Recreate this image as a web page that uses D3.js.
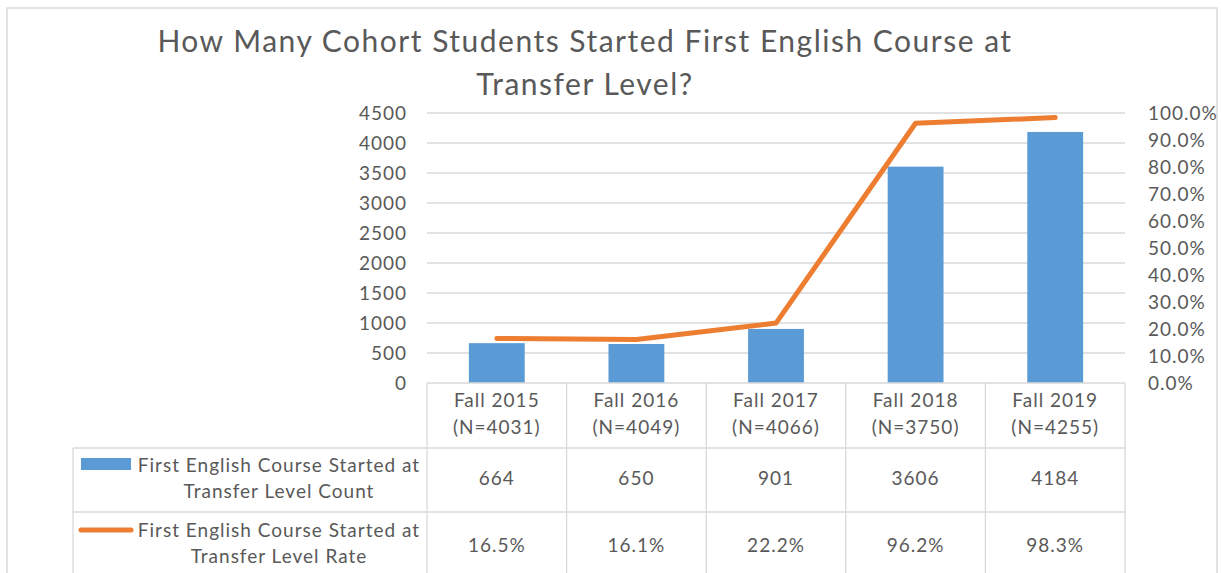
<!DOCTYPE html>
<html>
<head>
<meta charset="utf-8">
<script src="https://cdn.jsdelivr.net/npm/d3@7"></script>
<style>
  body { margin: 0; background: #fff; }
  text { font-family: Lato, "Liberation Sans", sans-serif; fill: #595959; letter-spacing: 1px; }
</style>
</head>
<body>
<div id="chart"></div>
<script>
// datos del grafico
const categorias = ["Fall 2015", "Fall 2016", "Fall 2017", "Fall 2018", "Fall 2019"];
const cohorteN = ["(N=4031)", "(N=4049)", "(N=4066)", "(N=3750)", "(N=4255)"];
const cantidad = [664, 650, 901, 3606, 4184];
const tasa = [16.5, 16.1, 22.2, 96.2, 98.3];
const ticksCantidad = [0, 500, 1000, 1500, 2000, 2500, 3000, 3500, 4000, 4500];
const ticksTasa = [0, 10, 20, 30, 40, 50, 60, 70, 80, 90, 100];
const tituloLineas = ["How Many Cohort Students Started First English Course at", "Transfer Level?"];
const serieCantidad = ["First English Course Started at", "Transfer Level Count"];
const serieTasa = ["First English Course Started at", "Transfer Level Rate"];

const W = 1221, H = 573;
const PLOT = { left: 427, right: 1125, top: 113, bottom: 383 };
const TABLA = { left: 73, fila1: 448, fila2: 512, fin: 600 };
const AZUL = "#5B9BD5", NARANJA = "#ED7D31", GRIS = "#D9D9D9";

const svg = d3.select("#chart").append("svg").attr("width", W).attr("height", H);

// borde del area del grafico
svg.append("rect").attr("x", 7).attr("y", 8).attr("width", 1210).attr("height", 620)
  .attr("fill", "none").attr("stroke", GRIS).attr("stroke-width", 1.5);

// titulo
svg.append("g").selectAll("text").data(tituloLineas).join("text")
  .attr("x", 585).attr("y", (d, i) => 52 + i * 43)
  .attr("text-anchor", "middle").attr("font-size", 30)
  .style("letter-spacing", "1.5px")
  .text(d => d);

// escalas
const x = d3.scaleBand().domain(categorias).range([PLOT.left, PLOT.right]);
const yCant = d3.scaleLinear().domain([0, 4500]).range([PLOT.bottom, PLOT.top]);
const yTasa = d3.scaleLinear().domain([0, 100]).range([PLOT.bottom, PLOT.top]);

// grilla
svg.append("g").selectAll("line").data(ticksCantidad.filter(d => d > 0)).join("line")
  .attr("x1", PLOT.left).attr("x2", PLOT.right)
  .attr("y1", d => yCant(d)).attr("y2", d => yCant(d))
  .attr("stroke", GRIS).attr("stroke-width", 1.3);

// eje izquierdo
const ejeIzq = svg.append("g").attr("transform", `translate(${PLOT.left},0)`)
  .call(d3.axisLeft(yCant).tickValues(ticksCantidad).tickSize(0).tickPadding(20)
    .tickFormat(d3.format("d")));
ejeIzq.select(".domain").remove();
ejeIzq.selectAll("text").attr("font-size", 19).attr("font-family", null).attr("fill", null).attr("dy", "0.36em");

// eje derecho
const ejeDer = svg.append("g").attr("transform", `translate(${PLOT.right},0)`)
  .call(d3.axisRight(yTasa).tickValues(ticksTasa).tickSize(0).tickPadding(23)
    .tickFormat(d => d.toFixed(1) + "%"));
ejeDer.select(".domain").remove();
ejeDer.selectAll("text").attr("font-size", 19).attr("font-family", null).attr("fill", null).attr("dy", "0.36em");

// barras
const anchoBarra = x.bandwidth() * 0.4;
svg.append("g").selectAll("rect").data(cantidad).join("rect")
  .attr("x", (d, i) => x(categorias[i]) + (x.bandwidth() - anchoBarra) / 2)
  .attr("y", d => yCant(d))
  .attr("width", anchoBarra)
  .attr("height", d => yCant(0) - yCant(d))
  .attr("fill", AZUL);

// linea de tasa
const linea = d3.line()
  .x((d, i) => x(categorias[i]) + x.bandwidth() / 2)
  .y(d => yTasa(d));
svg.append("path").datum(tasa).attr("d", linea)
  .attr("fill", "none").attr("stroke", NARANJA).attr("stroke-width", 5)
  .attr("stroke-linecap", "round").attr("stroke-linejoin", "round");

// tabla de datos
const tabla = svg.append("g").attr("stroke", GRIS).attr("stroke-width", 1.3);
tabla.append("line").attr("x1", PLOT.left).attr("x2", PLOT.right).attr("y1", PLOT.bottom).attr("y2", PLOT.bottom);
[TABLA.fila1, TABLA.fila2].forEach(y => {
  tabla.append("line").attr("x1", TABLA.left).attr("x2", PLOT.right).attr("y1", y).attr("y2", y);
});
tabla.append("line").attr("x1", TABLA.left).attr("x2", TABLA.left).attr("y1", TABLA.fila1).attr("y2", TABLA.fin);
const bordes = categorias.map(c => x(c)).concat([PLOT.right]);
tabla.selectAll(".v").data(bordes).join("line").attr("class", "v")
  .attr("x1", d => d).attr("x2", d => d).attr("y1", PLOT.bottom).attr("y2", TABLA.fin);

const centro = c => x(c) + x.bandwidth() / 2;
const celdas = svg.append("g").attr("font-size", 19).attr("text-anchor", "middle");
categorias.forEach((c, i) => {
  celdas.append("text").attr("x", centro(c)).attr("y", 407).text(c);
  celdas.append("text").attr("x", centro(c)).attr("y", 434).text(cohorteN[i]);
  celdas.append("text").attr("x", centro(c)).attr("y", 485).text(cantidad[i]);
  celdas.append("text").attr("x", centro(c)).attr("y", 552).text(tasa[i].toFixed(1) + "%");
});

// leyenda dentro de la tabla
const leyenda = svg.append("g").attr("font-size", 19).attr("text-anchor", "middle");
serieCantidad.forEach((t, i) => leyenda.append("text").attr("x", 279).attr("y", 472 + i * 26).text(t));
serieTasa.forEach((t, i) => leyenda.append("text").attr("x", 279).attr("y", 537 + i * 26).text(t));
svg.append("rect").attr("x", 81).attr("y", 458).attr("width", 50).attr("height", 12).attr("fill", AZUL);
svg.append("line").attr("x1", 81).attr("x2", 131).attr("y1", 530).attr("y2", 530)
  .attr("stroke", NARANJA).attr("stroke-width", 5).attr("stroke-linecap", "round");
</script>
</body>
</html>
